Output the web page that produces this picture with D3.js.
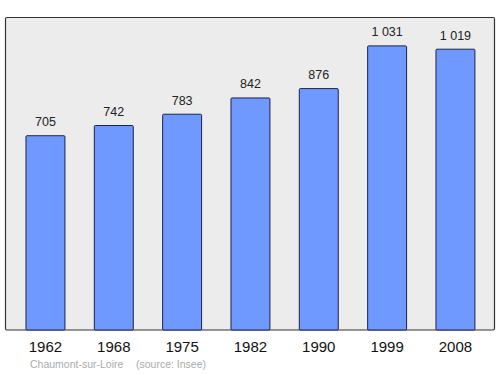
<!DOCTYPE html>
<html>
<head>
<meta charset="utf-8">
<script src="https://cdn.jsdelivr.net/npm/d3@7"></script>
<style>
  body { margin: 0; background: #fff; }
  text { font-family: "Liberation Sans", Arial, sans-serif; }
</style>
</head>
<body>
<div class="canvas"></div>
<script>
const years = ["1962", "1968", "1975", "1982", "1990", "1999", "2008"];
const population = [705, 742, 783, 842, 876, 1031, 1019];
const valueLabels = ["705", "742", "783", "842", "876", "1 031", "1 019"];
const place = "Chaumont-sur-Loire";
const source = "(source: Insee)";

const w = 500;
const h = 374;

const svg = d3.select(".canvas")
  .append("svg")
  .attr("width", w)
  .attr("height", h);

// frame
const frame = { left: 5.5, top: 17.5, right: 494.5, bottom: 330 };

svg.append("rect")
  .attr("x", frame.left)
  .attr("y", frame.top)
  .attr("width", frame.right - frame.left)
  .attr("height", frame.bottom - frame.top)
  .attr("rx", 1.5)
  .attr("fill", "#ececec")
  .attr("stroke", "#333")
  .attr("stroke-width", 1.2);

// scales
const x = d3.scaleBand()
  .domain(years)
  .range([11.3, 489.6])
  .paddingInner(0.43)
  .paddingOuter(0.215);

const y = d3.scaleLinear()
  .domain([0, 1134])
  .range([frame.bottom, frame.top]);

const data = years.map((year, i) => ({ year, value: population[i], label: valueLabels[i] }));

// bars
svg.selectAll("rect.bar")
  .data(data)
  .enter()
  .append("rect")
  .attr("class", "bar")
  .attr("x", d => x(d.year))
  .attr("y", d => y(d.value))
  .attr("width", x.bandwidth())
  .attr("height", d => y(0) - y(d.value))
  .attr("rx", 1)
  .attr("fill", "#7099ff")
  .attr("stroke", "#1a2448")
  .attr("stroke-width", 1);

// value labels
svg.selectAll("text.value")
  .data(data)
  .enter()
  .append("text")
  .attr("class", "value")
  .attr("x", d => x(d.year) + x.bandwidth() / 2)
  .attr("y", d => y(d.value) - 9.5)
  .attr("text-anchor", "middle")
  .attr("font-size", 12.5)
  .attr("fill", "#222")
  .text(d => d.label);

// x axis labels
const xAxis = d3.axisBottom(x).tickSize(0).tickPadding(11);
const xAxisGroup = svg.append("g")
  .attr("transform", `translate(0, ${frame.bottom})`)
  .call(xAxis);
xAxisGroup.select(".domain").remove();
xAxisGroup.selectAll("text")
  .attr("font-size", 15)
  .attr("font-family", "Liberation Sans, Arial, sans-serif")
  .attr("fill", "#111");

// footer
svg.append("text")
  .attr("x", 30)
  .attr("y", 367.5)
  .attr("font-size", 10.5)
  .attr("fill", "#aaa")
  .text(place);

svg.append("text")
  .attr("x", 136)
  .attr("y", 367.5)
  .attr("font-size", 10.5)
  .attr("fill", "#aaa")
  .text(source);
</script>
</body>
</html>
